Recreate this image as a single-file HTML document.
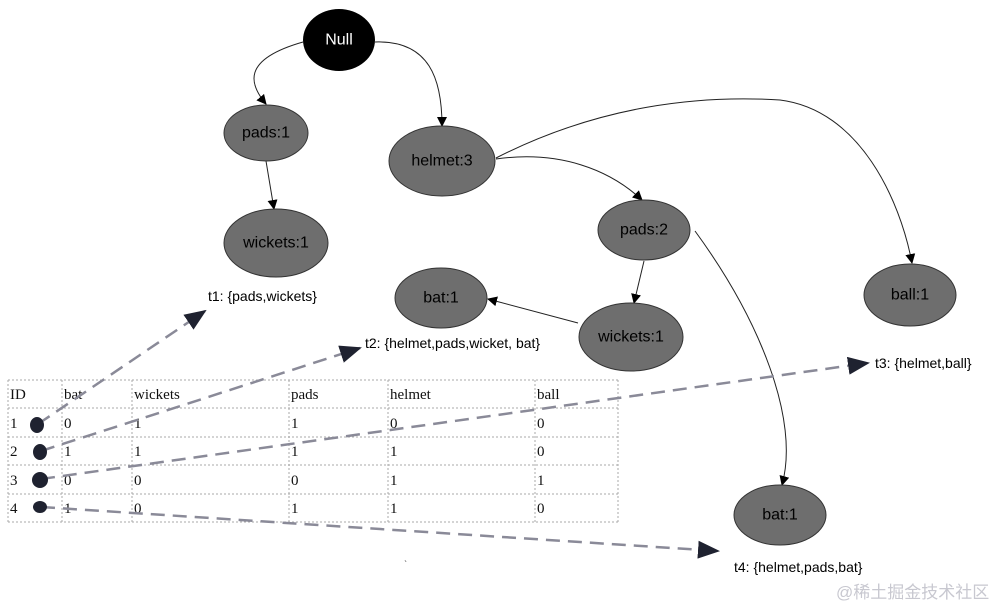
<!DOCTYPE html>
<html><head><meta charset="utf-8"><style>
html,body{margin:0;padding:0;background:#fff;width:1002px;height:608px;overflow:hidden}
svg text{font-family:"Liberation Sans","DejaVu Sans",sans-serif}
.n{fill:#6e6e6e;stroke:#333;stroke-width:1}
.nt{font-size:16px;fill:#000;text-anchor:middle;dominant-baseline:central}
.e{fill:none;stroke:#222;stroke-width:1}
.d{fill:none;stroke:#8a8a98;stroke-width:2.5;stroke-dasharray:14 8}
.tb{font-family:"Liberation Serif","DejaVu Serif",serif;font-size:15px;fill:#111}
.g{stroke:#aaa;stroke-width:1;stroke-dasharray:2 2}
.lb{font-size:14px;fill:#000}
</style></head><body>
<svg width="1002" height="608" viewBox="0 0 1002 608" xmlns="http://www.w3.org/2000/svg">
<defs>
<marker id="a" markerWidth="10" markerHeight="10" refX="9" refY="5" orient="auto" markerUnits="userSpaceOnUse"><path d="M0,0 L10,5 L0,10 z" fill="#000"/></marker>
<marker id="b" markerWidth="22" markerHeight="18" refX="20" refY="9" orient="auto" markerUnits="userSpaceOnUse"><path d="M0,0 L22,9 L0,18 z" fill="#1f2230"/></marker>
</defs>
<path class="e" d="M303,42 C240,60 250,85 266,104" marker-end="url(#a)"/>
<path class="e" d="M375,42 C430,40 442,80 442,126" marker-end="url(#a)"/>
<path class="e" d="M266,161 L274,209" marker-end="url(#a)"/>
<path class="e" d="M496,159 C560,150 610,170 642,200" marker-end="url(#a)"/>
<path class="e" d="M496,158 C600,105 700,95 780,100 C860,110 900,200 912,263" marker-end="url(#a)"/>
<path class="e" d="M644,261 L634,303" marker-end="url(#a)"/>
<path class="e" d="M578,323 L488,299" marker-end="url(#a)"/>
<path class="e" d="M695,231 C760,320 800,420 782,485" marker-end="url(#a)"/>
<ellipse cx="339" cy="40" rx="36" ry="31" fill="#000"/>
<text class="nt" x="339" y="40" style="fill:#fff">Null</text>
<ellipse class="n" cx="266" cy="133" rx="42" ry="28"/><text class="nt" x="266" y="133">pads:1</text>
<ellipse class="n" cx="276" cy="243" rx="52" ry="34"/><text class="nt" x="276" y="243">wickets:1</text>
<ellipse class="n" cx="442" cy="161" rx="53" ry="35"/><text class="nt" x="442" y="161">helmet:3</text>
<ellipse class="n" cx="644" cy="230" rx="46" ry="30"/><text class="nt" x="644" y="230">pads:2</text>
<ellipse class="n" cx="441" cy="298" rx="46" ry="30"/><text class="nt" x="441" y="298">bat:1</text>
<ellipse class="n" cx="631" cy="337" rx="52" ry="34"/><text class="nt" x="631" y="337">wickets:1</text>
<ellipse class="n" cx="910" cy="295" rx="46" ry="31"/><text class="nt" x="910" y="295">ball:1</text>
<ellipse class="n" cx="780" cy="515" rx="46" ry="30"/><text class="nt" x="780" y="515">bat:1</text>
<text class="lb" x="208" y="301">t1: {pads,wickets}</text>
<text class="lb" x="365" y="348">t2: {helmet,pads,wicket, bat}</text>
<text class="lb" x="875" y="368">t3: {helmet,ball}</text>
<text class="lb" x="734" y="572">t4: {helmet,pads,bat}</text>
<g>
<line class="g" x1="8" y1="380" x2="618" y2="380"/>
<line class="g" x1="8" y1="408" x2="618" y2="408"/>
<line class="g" x1="8" y1="437" x2="618" y2="437"/>
<line class="g" x1="8" y1="465" x2="618" y2="465"/>
<line class="g" x1="8" y1="494" x2="618" y2="494"/>
<line class="g" x1="8" y1="522" x2="618" y2="522"/>
<line class="g" x1="8" y1="380" x2="8" y2="522"/>
<line class="g" x1="62" y1="380" x2="62" y2="522"/>
<line class="g" x1="132" y1="380" x2="132" y2="522"/>
<line class="g" x1="289" y1="380" x2="289" y2="522"/>
<line class="g" x1="388" y1="380" x2="388" y2="522"/>
<line class="g" x1="535" y1="380" x2="535" y2="522"/>
<line class="g" x1="618" y1="380" x2="618" y2="522"/>
</g>
<g>
<text x="10" y="399" class="tb">ID</text><text x="64" y="399" class="tb">bat</text><text x="134" y="399" class="tb">wickets</text><text x="291" y="399" class="tb">pads</text><text x="390" y="399" class="tb">helmet</text><text x="537" y="399" class="tb">ball</text>
<text x="10" y="428" class="tb">1</text><text x="64" y="428" class="tb">0</text><text x="134" y="428" class="tb">1</text><text x="291" y="428" class="tb">1</text><text x="390" y="428" class="tb">0</text><text x="537" y="428" class="tb">0</text>
<text x="10" y="456" class="tb">2</text><text x="64" y="456" class="tb">1</text><text x="134" y="456" class="tb">1</text><text x="291" y="456" class="tb">1</text><text x="390" y="456" class="tb">1</text><text x="537" y="456" class="tb">0</text>
<text x="10" y="485" class="tb">3</text><text x="64" y="485" class="tb">0</text><text x="134" y="485" class="tb">0</text><text x="291" y="485" class="tb">0</text><text x="390" y="485" class="tb">1</text><text x="537" y="485" class="tb">1</text>
<text x="10" y="513" class="tb">4</text><text x="64" y="513" class="tb">1</text><text x="134" y="513" class="tb">0</text><text x="291" y="513" class="tb">1</text><text x="390" y="513" class="tb">1</text><text x="537" y="513" class="tb">0</text>
</g>
<path class="d" d="M38,424 L205,311" marker-end="url(#b)"/>
<path class="d" d="M41,451 L360,348" marker-end="url(#b)"/>
<path class="d" d="M41,479 L868,363" marker-end="url(#b)"/>
<path class="d" d="M41,507 L718,551" marker-end="url(#b)"/>
<ellipse cx="37" cy="425" rx="7" ry="8" fill="#1f2230"/>
<ellipse cx="40" cy="452" rx="7" ry="8" fill="#1f2230"/>
<ellipse cx="40" cy="480" rx="8" ry="8" fill="#1f2230"/>
<ellipse cx="40" cy="507" rx="7" ry="6" fill="#1f2230"/>
<text x="404" y="568" font-size="10" fill="#555">ˋ</text>
<text x="836" y="598" font-size="17" fill="#c8c8d0" style="font-family:'Liberation Sans','Noto Sans CJK SC',sans-serif">@稀土掘金技术社区</text>
</svg>
</body></html>
